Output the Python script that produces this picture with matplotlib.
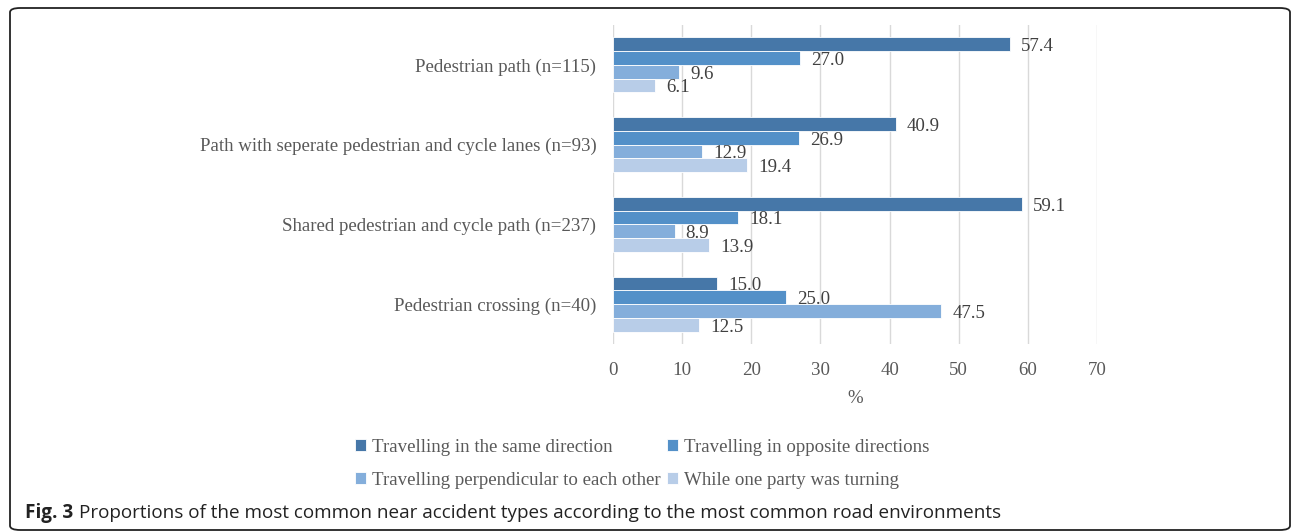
import matplotlib.pyplot as plt
from matplotlib.patches import FancyBboxPatch
import numpy as np

GREY = '#595959'; GRID = '#D9D9D9'; SERIF = 'Liberation Serif'
FS = 13.6

environments = ['Pedestrian path (n=115)',
                'Path with seperate pedestrian and cycle lanes (n=93)',
                'Shared pedestrian and cycle path (n=237)',
                'Pedestrian crossing (n=40)']
series_names = ['Travelling in the same direction',
                'Travelling in opposite directions',
                'Travelling perpendicular to each other',
                'While one party was turning']
same_direction = [57.4, 40.9, 59.1, 15.0]
opposite_directions = [27.0, 26.9, 18.1, 25.0]
perpendicular = [9.6, 12.9, 8.9, 47.5]
one_turning = [6.1, 19.4, 13.9, 12.5]
colors = ['#4677A8', '#5390C8', '#84AEDB', '#B8CDE8']


def main():
    fig = plt.figure(figsize=(12.92, 5.32), dpi=100, facecolor='white')
    ax = fig.add_axes([0.4745, 0.3534, 0.3746, 0.5996])

    series = [same_direction, opposite_directions, perpendicular, one_turning]
    y = np.arange(len(environments))
    h = 0.172
    handles = []
    for k, vals in enumerate(series):
        pos = y - 1.5 * h + k * h
        bars = ax.barh(pos, vals, height=h, color=colors[k], edgecolor='white',
                       lw=0.6, label=series_names[k], zorder=3)
        handles.append(bars)
        for p, v in zip(pos, vals):
            ax.text(v + 1.6, p + 0.03, f'{v:.1f}', va='center', ha='left',
                    fontsize=FS, fontfamily=SERIF, color='#404040', zorder=4)

    ax.set_ylim(3.5, -0.5)
    ax.set_xlim(0, 70)
    ax.set_xticks(np.arange(0, 71, 10))
    ax.set_yticks(y)
    ax.set_yticklabels(environments)
    ax.tick_params(length=0, labelsize=FS, colors=GREY)
    ax.tick_params(axis='y', pad=12)
    ax.tick_params(axis='x', pad=13)
    for lab in ax.get_xticklabels() + ax.get_yticklabels():
        lab.set_fontfamily(SERIF)
    ax.grid(axis='x', color=GRID, lw=1, zorder=0)
    for sp in ax.spines.values():
        sp.set_visible(False)
    ax.set_xlabel('%', fontsize=FS, fontfamily=SERIF, color=GREY, labelpad=8)

    # legend fills row by row: same/opposite on top, perpendicular/turning below
    order = [0, 2, 1, 3]
    fig.legend([handles[i] for i in order], [series_names[i] for i in order],
               loc='center', bbox_to_anchor=(642 / 1292, 1 - 464 / 532), ncol=2,
               frameon=False, prop={'family': SERIF, 'size': FS},
               labelcolor=GREY, handlelength=0.6, handleheight=0.6,
               handletextpad=0.3, columnspacing=0.35, labelspacing=0.85)

    fig.text(25 / 1292, 1 - 513 / 532, 'Fig. 3', fontsize=FS, fontweight='bold',
             fontfamily='Open Sans', color='#222222', va='center')
    fig.text(79 / 1292, 1 - 513 / 532,
             'Proportions of the most common near accident types according '
             'to the most common road environments',
             fontsize=FS, fontfamily='Open Sans', color='#222222', va='center')

    frame = FancyBboxPatch((10 / 1292, 2 / 532), 1280 / 1292, 522 / 532,
                           boxstyle='round,pad=0,rounding_size=0.008',
                           transform=fig.transFigure, fill=False,
                           edgecolor='#222222', lw=1.3)
    fig.patches.append(frame)

    fig.savefig('out.png', dpi=100, facecolor='white')
    plt.close(fig)


if __name__ == '__main__':
    main()
